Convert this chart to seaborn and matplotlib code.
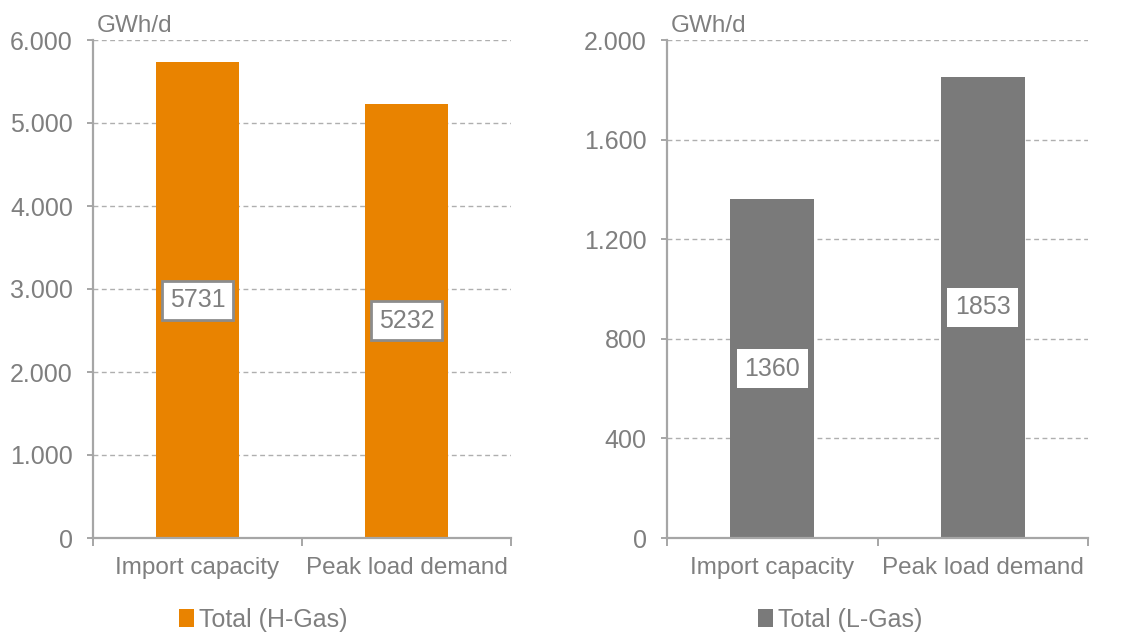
import matplotlib
matplotlib.use("Agg")
import matplotlib.pyplot as plt
from matplotlib.patches import Patch
from matplotlib.ticker import FuncFormatter, FixedLocator
import seaborn as sns
import pandas as pd

# Data
categories = ["Import capacity", "Peak load demand"]
h_gas_values = [5731, 5232]
l_gas_values = [1360, 1853]
h_gas_label = "Total (H-Gas)"
l_gas_label = "Total (L-Gas)"
h_gas_ticks = [0, 1000, 2000, 3000, 4000, 5000, 6000]
l_gas_ticks = [0, 400, 800, 1200, 1600, 2000]
unit_label = "GWh/d"

ORANGE = "#E98300"
GRAY_BAR = "#7A7A7A"
TEXT = "#7F7F7F"
AXIS = "#A6A6A6"
GRID = "#AFAFAF"

sns.set_theme(style="white")
plt.rcParams["font.family"] = ["Liberation Sans", "DejaVu Sans"]

fig = plt.figure(figsize=(11.35, 6.37), dpi=100)
ax_h = fig.add_axes([93 / 1135, 99 / 637, 418 / 1135, 498 / 637])
ax_l = fig.add_axes([667 / 1135, 99 / 637, 421 / 1135, 498 / 637])


def thousands(v, _pos):
    return f"{int(round(v)):,}".replace(",", ".")


def draw_panel(ax, values, color, ticks, legend_label, boxed, legend_x):
    df = pd.DataFrame({"category": categories, "value": values})
    sns.barplot(data=df, x="category", y="value", color=color, width=0.4,
                saturation=1, ax=ax, linewidth=0)
    ax.set_xlim(-0.5, 1.5)
    ax.set_ylim(ticks[0], ticks[-1])
    ax.set_xlabel("")
    ax.set_ylabel("")

    # dashed gridlines at every value tick
    ax.yaxis.set_major_locator(FixedLocator(ticks))
    ax.yaxis.set_major_formatter(FuncFormatter(thousands))
    ax.set_axisbelow(True)
    ax.grid(axis="y", color=GRID, linestyle=(0, (3.5, 2.5)), linewidth=1)
    ax.grid(axis="x", visible=False)

    for side in ("top", "right"):
        ax.spines[side].set_visible(False)
    for side in ("left", "bottom"):
        ax.spines[side].set_color(AXIS)
        ax.spines[side].set_linewidth(1.6)

    ax.tick_params(axis="y", which="major", direction="out", length=4.5,
                   width=1.4, color=AXIS, labelcolor=TEXT, labelsize=18, pad=10,
                   left=True)
    ax.tick_params(axis="x", which="major", length=0, labelcolor=TEXT,
                   labelsize=17.5, pad=14)
    # category separators on the baseline
    ax.xaxis.set_minor_locator(FixedLocator([-0.5, 0.5, 1.5]))
    ax.tick_params(axis="x", which="minor", direction="out", length=6,
                   width=1.4, color=AXIS, bottom=True)

    # value labels centred in each bar
    if boxed:
        bbox = dict(boxstyle="square,pad=0.3", facecolor="white",
                    edgecolor="#8C8C8C", linewidth=2)
    else:
        bbox = dict(boxstyle="square,pad=0.3", facecolor="white",
                    edgecolor="none")
    ax.bar_label(ax.containers[0], labels=[str(v) for v in values],
                 label_type="center", fontsize=18, color=TEXT, bbox=bbox)

    ax.annotate(unit_label, xy=(0, 1), xycoords="axes fraction",
                xytext=(3, 6), textcoords="offset points",
                ha="left", va="baseline", fontsize=17.5, color=TEXT)

    handle = Patch(facecolor=color, edgecolor="none")
    fig.legend([handle], [legend_label], loc="center",
               bbox_to_anchor=(legend_x, 1 - 620 / 637), frameon=False,
               fontsize=18, labelcolor=TEXT, handlelength=0.6,
               handleheight=0.75, handletextpad=0.2)


draw_panel(ax_h, h_gas_values, ORANGE, h_gas_ticks, h_gas_label, True,
           263 / 1135)
draw_panel(ax_l, l_gas_values, GRAY_BAR, l_gas_ticks, l_gas_label, False,
           840 / 1135)

fig.savefig("out.png", dpi=100, facecolor="white")
